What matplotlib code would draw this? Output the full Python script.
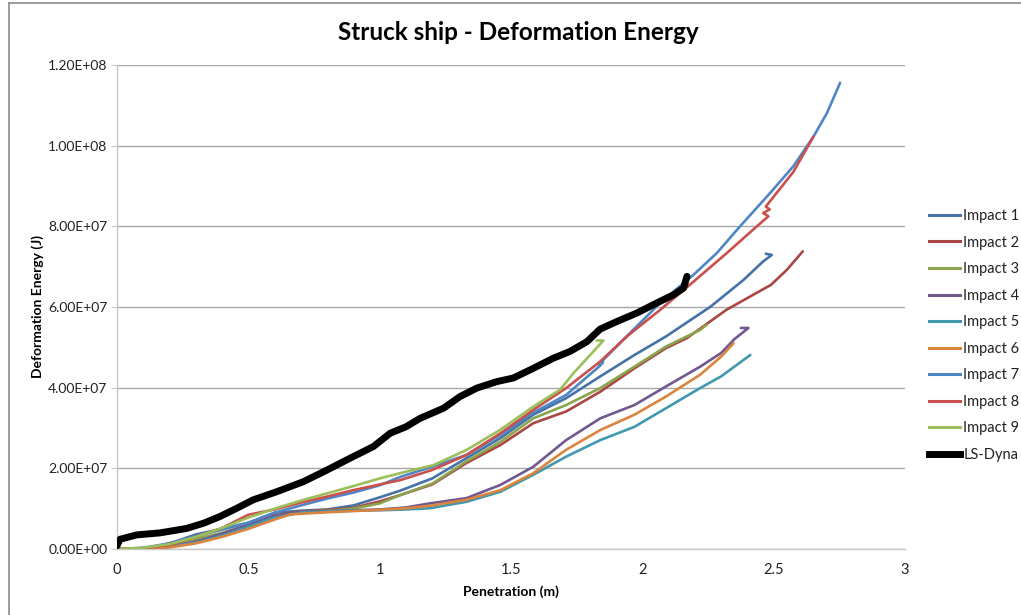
import matplotlib
matplotlib.use("Agg")
import matplotlib.pyplot as plt
import numpy as np
from matplotlib.lines import Line2D
from matplotlib.ticker import FuncFormatter

plt.rcParams['font.family'] = ['Lato', 'DejaVu Sans']

# Penetration (m) and deformation energy (in 1e6 J)
imp1_x = [0, 0.08, 0.15, 0.22, 0.3, 0.4, 0.5, 0.6, 0.7, 0.8, 0.9, 1.0, 1.08, 1.2, 1.33, 1.46, 1.585, 1.71, 1.84, 1.97, 2.09, 2.26, 2.385, 2.46, 2.493, 2.47]
imp1_y = [0, 0.1, 0.6, 1.8, 3.6, 5.0, 6.5, 9.0, 9.5, 9.8, 10.8, 12.8, 14.5, 17.5, 22.5, 27.5, 33.3, 37.4, 42.8, 48.1, 52.7, 60.1, 66.7, 71.3, 72.9, 73.2]

imp2_x = [0, 0.1, 0.2, 0.3, 0.4, 0.5, 0.6, 0.7, 0.8, 0.9, 1.0, 1.08, 1.2, 1.33, 1.46, 1.585, 1.71, 1.84, 1.97, 2.09, 2.17, 2.32, 2.49, 2.55, 2.611]
imp2_y = [0, 0.1, 0.7, 2.2, 3.8, 5.8, 8.3, 9.3, 9.7, 10.2, 11.8, 13.4, 16.0, 21.3, 25.8, 31.2, 34.1, 39.0, 44.8, 49.8, 52.3, 59.3, 65.5, 69.2, 73.8]

imp3_x = [0, 0.1, 0.2, 0.3, 0.4, 0.5, 0.6, 0.7, 0.8, 0.9, 1.0, 1.08, 1.2, 1.33, 1.46, 1.585, 1.71, 1.84, 1.97, 2.09, 2.22, 2.245]
imp3_y = [0, 0.2, 0.9, 2.5, 4.0, 6.0, 8.0, 9.2, 9.5, 10.0, 11.3, 13.4, 16.2, 21.7, 26.6, 32.4, 35.7, 39.9, 45.2, 50.2, 54.3, 55.6]

imp4_x = [0, 0.1, 0.2, 0.3, 0.4, 0.5, 0.6, 0.7, 0.8, 0.9, 1.0, 1.1, 1.19, 1.33, 1.46, 1.585, 1.71, 1.84, 1.97, 2.09, 2.22, 2.3, 2.35, 2.404, 2.375]
imp4_y = [0, 0.1, 0.6, 1.8, 3.8, 6.0, 8.2, 9.2, 9.4, 9.6, 9.8, 10.3, 11.3, 12.6, 15.9, 20.4, 27.0, 32.4, 35.7, 40.3, 45.2, 48.6, 52.0, 54.8, 54.8]

imp5_x = [0, 0.1, 0.2, 0.3, 0.4, 0.5, 0.6, 0.7, 0.8, 0.9, 1.0, 1.1, 1.19, 1.33, 1.46, 1.585, 1.71, 1.84, 1.97, 2.09, 2.22, 2.3, 2.411]
imp5_y = [0, 0.1, 0.5, 1.6, 3.3, 5.5, 7.8, 9.0, 9.3, 9.5, 9.6, 9.8, 10.1, 11.7, 14.2, 18.4, 22.9, 27.0, 30.3, 34.9, 39.9, 42.8, 48.1]

imp6_x = [0, 0.1, 0.2, 0.3, 0.4, 0.5, 0.6, 0.66, 0.8, 0.9, 1.0, 1.1, 1.19, 1.33, 1.46, 1.585, 1.71, 1.84, 1.97, 2.09, 2.22, 2.3, 2.347]
imp6_y = [0, 0.05, 0.4, 1.4, 3.0, 5.0, 7.3, 8.6, 9.1, 9.4, 9.7, 10.1, 10.7, 12.2, 14.6, 18.8, 24.6, 29.5, 33.3, 37.8, 43.2, 47.7, 51.0]

imp7_x = [0, 0.1, 0.2, 0.3, 0.4, 0.5, 0.6, 0.7, 0.8, 0.9, 1.0, 1.08, 1.2, 1.33, 1.46, 1.585, 1.71, 1.84, 1.85, 1.835, 1.94, 2.068, 2.195, 2.284, 2.372, 2.487, 2.575, 2.652, 2.703, 2.753]
imp7_y = [0, 0.3, 1.4, 3.2, 4.8, 6.5, 9.0, 10.8, 12.5, 14.0, 15.8, 17.9, 20.4, 23.3, 28.3, 33.8, 38.2, 45.5, 46.3, 45.8, 52.7, 61.0, 68.0, 73.4, 80.0, 88.3, 94.9, 102.3, 108.1, 115.6]

imp8_x = [0, 0.1, 0.2, 0.3, 0.4, 0.5, 0.6, 0.7, 0.8, 0.9, 1.0, 1.08, 1.2, 1.33, 1.46, 1.585, 1.71, 1.84, 1.941, 2.068, 2.195, 2.322, 2.436, 2.48, 2.46, 2.485, 2.47, 2.575, 2.652]
imp8_y = [0, 0.2, 1.0, 3.0, 5.2, 8.5, 9.8, 11.5, 13.0, 14.6, 16.0, 17.1, 19.6, 23.3, 28.7, 34.5, 39.9, 46.5, 52.7, 59.3, 66.3, 73.4, 80.0, 82.5, 83.3, 84.2, 84.9, 93.5, 102.3]

imp9_x = [0, 0.1, 0.2, 0.3, 0.4, 0.5, 0.6, 0.7, 0.8, 0.9, 1.0, 1.078, 1.205, 1.332, 1.458, 1.585, 1.687, 1.738, 1.852, 1.826]
imp9_y = [0, 0.3, 1.2, 3.0, 5.2, 7.8, 10.0, 12.0, 13.8, 15.6, 17.5, 18.8, 20.8, 24.6, 29.5, 35.3, 39.5, 43.6, 51.7, 51.7]

dyna_x = [0, 0.011, 0.075, 0.164, 0.265, 0.33, 0.39, 0.456, 0.519, 0.608, 0.71, 0.80, 0.887, 0.976, 1.04, 1.10, 1.154, 1.243, 1.306, 1.37, 1.446, 1.509, 1.585, 1.661, 1.725, 1.789, 1.839, 1.903, 1.979, 2.055, 2.118, 2.157, 2.17]
dyna_y = [0.8, 2.4, 3.5, 4.0, 5.1, 6.4, 8.0, 10.1, 12.2, 14.2, 16.7, 19.6, 22.5, 25.4, 28.7, 30.3, 32.4, 34.9, 37.8, 39.9, 41.5, 42.4, 44.8, 47.3, 49.0, 51.4, 54.5, 56.4, 58.5, 61.0, 63.0, 64.7, 67.6]

series_names = ["Impact 1", "Impact 2", "Impact 3", "Impact 4", "Impact 5",
                "Impact 6", "Impact 7", "Impact 8", "Impact 9", "LS-Dyna"]
series_x = [imp1_x, imp2_x, imp3_x, imp4_x, imp5_x, imp6_x, imp7_x, imp8_x, imp9_x, dyna_x]
series_y = [imp1_y, imp2_y, imp3_y, imp4_y, imp5_y, imp6_y, imp7_y, imp8_y, imp9_y, dyna_y]
colors = ["#4572A7", "#AA4643", "#89A54E", "#71588F", "#4198AF",
          "#DB843D", "#4F86C6", "#C9504C", "#9BBF59", "#000000"]
widths = [1.9] * 9 + [5.0]

y_ticks = [0, 2e7, 4e7, 6e7, 8e7, 1e8, 1.2e8]
x_ticks = [0, 0.5, 1, 1.5, 2, 2.5, 3]
x_ticklabels = ["0", "0.5", "1", "1.5", "2", "2.5", "3"]

fig = plt.figure(figsize=(10.21, 6.15), dpi=100)
ax = fig.add_axes([117 / 1021, 1 - 549 / 615, (905 - 117) / 1021, (549 - 65) / 615])

for i in range(10):
    ax.plot(np.array(series_x[i]), np.array(series_y[i]) * 1e6, color=colors[i],
            lw=widths[i], solid_capstyle='round', solid_joinstyle='round',
            label=series_names[i], zorder=3 + (1 if i == 9 else 0))

ax.set_xlim(0, 3)
ax.set_ylim(0, 1.2e8)
ax.set_yticks(y_ticks)
ax.set_xticks(x_ticks)
ax.set_xticklabels(x_ticklabels)
ax.yaxis.set_major_formatter(FuncFormatter(lambda v, p: ("%.2E" % v)))
ax.grid(axis='y', color='#A8A8A8', lw=1.0)
ax.set_axisbelow(True)
for s in ['top', 'right']:
    ax.spines[s].set_visible(False)
ax.spines['left'].set_color('#C8C8C8')
ax.spines['bottom'].set_color('#C8C8C8')
ax.spines['left'].set_linewidth(1.0)
ax.spines['bottom'].set_linewidth(1.0)
ax.tick_params(axis='y', length=4, color='#C8C8C8', labelsize=10, pad=3, labelcolor='#222222')
ax.tick_params(axis='x', length=0, labelsize=10.5, pad=10, labelcolor='#222222')

ax.set_xlabel("Penetration (m)", fontsize=10, fontweight='bold', labelpad=6)
ax.set_ylabel("Deformation Energy (J)", fontsize=10, fontweight='bold', labelpad=3)

fig.text(518 / 1021, 1 - 33 / 615, "Struck ship - Deformation Energy", ha='center', va='center',
         fontsize=17.5, fontweight='bold')

handles = [Line2D([0], [0], color=colors[i], lw=(2.2 if i < 9 else 5.0)) for i in range(10)]
leg = fig.legend(handles, series_names, loc='upper left', bbox_to_anchor=(929 / 1021, 1 - 209 / 615),
                 frameon=False, fontsize=10.5, handlelength=2.1, handletextpad=0.25,
                 labelspacing=0.86, borderaxespad=0, borderpad=0)
for t in leg.get_texts():
    t.set_color('#222222')

# chart-area border (left and top visible)
fig.add_artist(Line2D([9 / 1021, 9 / 1021], [0, 1 - 3 / 615], transform=fig.transFigure, color='#8C8C8C', lw=1.2))
fig.add_artist(Line2D([9 / 1021, 1], [1 - 3 / 615, 1 - 3 / 615], transform=fig.transFigure, color='#8C8C8C', lw=1.2))

fig.savefig("out.png", dpi=100)
